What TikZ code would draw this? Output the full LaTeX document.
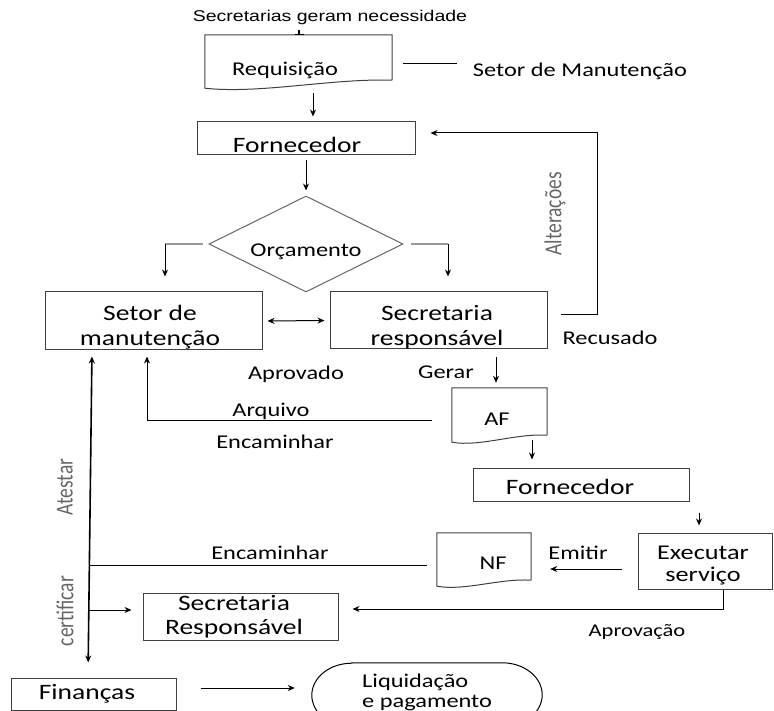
\documentclass[tikz,border=0pt]{standalone}
\usepackage{fontspec}
\setmainfont{Carlito}[FakeStretch=1.25]
\newfontfamily\plainf{Carlito}
\newfontfamily\arialf{Liberation Sans}[FakeStretch=1.25]
\usetikzlibrary{arrows.meta,shapes.geometric,calc}
\newcommand\fsA{\fontsize{19.5}{23}\selectfont}
\newcommand\fsB{\fontsize{22}{25}\selectfont}
\newcommand\fsC{\fontsize{21}{22}\selectfont}
\newcommand\fsD{\fontsize{22}{24}\selectfont}
\newcommand\fsE{\fontsize{19.5}{20}\selectfont}
\tikzset{
  lbl/.style={inner sep=0pt, font=\fsA},
  boxlbl/.style={inner sep=0pt, font=\fsB, align=center},
  box/.style={draw=black!75, line width=1pt, inner sep=0pt},
  shp/.style={inner sep=0pt},
  doc/.style={draw=black!75, line width=1pt},
  arr/.style={-{Stealth[length=7pt,width=6pt]}, line width=1pt},
  arrtwo/.style={{Stealth[length=7pt,width=6pt]}-{Stealth[length=7pt,width=6pt]}, line width=1pt},
  branch/.style={draw=black!40, line width=1.8pt},
  rotl/.style={inner sep=0pt, rotate=90, text=black!60, font=\plainf\fontsize{19.5}{20}\selectfont}
}
\begin{document}
\begin{tikzpicture}[x=1pt,y=-1pt]
\useasboundingbox (0,0) rectangle (774,711);

% ---------- top ----------
\node[inner sep=0pt, font=\arialf\fontsize{15.6}{18}\selectfont] (src) at (330,17) {Secretarias geram necessidade};

\node[shp, minimum width=187pt, minimum height=45pt] (req) at (298.5,57.5) {};
\draw[doc] (req.south east) -- (req.north east) -- (req.north west) -- ([yshift=-8pt]req.south west)
  .. controls +(55,6) and +(-60,-2) .. (req.south east);
\node[lbl] (reqt) at (285,70) {Requisição};
\draw[line width=1.8pt] ([xshift=-31pt,yshift=-6pt]src.south) -- ([xshift=0.5pt]req.north);
\draw[line width=1pt] ([xshift=-4pt]req.north) -- ([xshift=5pt]req.north);

\coordinate (sl1) at (403,63);
\coordinate (sl2) at (457,63);
\draw[line width=0.8pt] (sl1) -- (sl2);
\node[lbl] (setmt) at (580,71) {Setor de Manutenção};

% ---------- fornecedor 1 ----------
\node[box, minimum width=218pt, minimum height=33pt] (forn1) at (306,138.5) {};
\node[boxlbl] at (297,145) {Fornecedor};
\draw[arr, shorten <=13pt, shorten >=5pt] ([xshift=14.5pt]req.south) -- ([xshift=7pt]forn1.north);

% ---------- diamond ----------
\node[diamond, draw=black!60, line width=1pt, minimum width=194pt, minimum height=96pt, inner sep=0pt] (dia) at (306,244) {};
\node[lbl] at (306,252) {Orçamento};
\draw[arr, shorten <=5pt, shorten >=5pt] (forn1.south) -- (dia.north);

% ---------- setor / secretaria ----------
\node[box, minimum width=217pt, minimum height=58pt] (setm) at (153.5,321) {};
\node[boxlbl] at (150,327) {Setor de\\manutenção};
\node[box, minimum width=217pt, minimum height=57pt] (secr) at (438.5,320.5) {};
\node[boxlbl] at (437,327) {Secretaria\\responsável};

\coordinate (bl) at (165,244);
\coordinate (br) at (448,244);
\draw[branch] ([xshift=-6pt]dia.west) -- (bl);
\draw[arr, shorten >=15pt] (bl) -- (bl |- setm.north);
\draw[branch] ([xshift=7pt]dia.east) -- (br);
\draw[arr, shorten >=15pt] (br) -- (br |- secr.north);

\draw[arrtwo, shorten <=5pt, shorten >=5pt] (setm.east) -- (secr.west);

% Alteracoes loop
\draw[arr, shorten >=15pt] ([xshift=13pt,yshift=5.5pt]secr.east) -| (597,133) -- ([yshift=5.5pt]forn1.east);
\node[rotl] at (555,214) {\scalebox{1}[1.25]{Alterações}};
\node[lbl] at (610,338) {Recusado};
\node[lbl] at (296,374) {Aprovado};
\node[lbl] at (446,372) {Gerar};

% ---------- AF ----------
\node[shp, minimum width=95pt, minimum height=47pt] (af) at (499.5,411.5) {};
\draw[doc] (af.south east) -- (af.north east) -- (af.north west) -- ([yshift=-7pt]af.south west)
  .. controls +(28,5) and +(-32,-2) .. (af.south east);
\node[lbl] at (497,419) {AF};
\draw[arr, shorten <=8pt, shorten >=5pt] ([xshift=57.5pt]secr.south) -- ([xshift=-3.5pt]af.north);

\draw[arr, shorten >=6pt] ([xshift=-20pt,yshift=-8.5pt]af.west) -| ([xshift=-6.5pt]setm.south);
\node[lbl] at (271,411) {Arquivo};
\node[lbl] at (275,442) {Encaminhar};

% ---------- fornecedor 2 ----------
\node[box, minimum width=216pt, minimum height=33pt] (forn2) at (581,484.5) {};
\node[boxlbl] at (570,487) {Fornecedor};
\draw[arr, shorten <=5pt, shorten >=8pt] ([xshift=32.5pt]af.south) -- ([xshift=-49pt]forn2.north);

% ---------- executar ----------
\node[box, minimum width=134pt, minimum height=56pt] (exec) at (705,561) {};
\node[inner sep=0pt, font=\fsC, align=center] at (703,566) {Executar\\serviço};
\draw[arr, shorten <=11pt, shorten >=7pt] ([xshift=118pt]forn2.south) -- ([xshift=-6pt]exec.north);

% ---------- NF ----------
\node[shp, minimum width=94pt, minimum height=47pt] (nf) at (484,556.5) {};
\draw[doc] (nf.south east) -- (nf.north east) -- (nf.north west) -- ([yshift=-6pt]nf.south west)
  .. controls +(28,5) and +(-32,-2) .. (nf.south east);
\node[lbl] at (493,563) {NF};
\draw[arr, shorten <=16pt, shorten >=19pt] ([yshift=-8pt]exec.west) -- ([yshift=-8pt]exec.west -| nf.east);
\node[lbl] at (578,553) {Emitir};

% ---------- left vertical ----------
\node[box, minimum width=165pt, minimum height=32pt] (fin) at (93.5,694) {};
\node[boxlbl] at (87,694) {Finanças};
\draw[arrtwo, line width=1.6pt, shorten <=6pt, shorten >=15pt] ([xshift=-61.5pt]setm.south) -- ([xshift=-5.5pt]fin.north);
\node[rotl] at (65,487) {\scalebox{1}[1.25]{Atestar}};
\node[rotl] at (65,611) {\scalebox{1}[1.25]{certificar}};

\coordinate (j1) at (89.6,565);
\draw[line width=1pt] ([xshift=-10pt,yshift=-8.5pt]nf.west) -- (j1);
\node[lbl] at (270,553) {Encaminhar};

\node[box, minimum width=195pt, minimum height=47pt] (sec2) at (240.5,616.5) {};
\node[inner sep=0pt, font=\fsD, align=center] at (234,617) {Secretaria\\Responsável};
\coordinate (j2) at (89.2,610);
\draw[arr, shorten >=11pt] (j2) -- (j2 -| sec2.west);

\draw[arr, shorten >=14pt] ([xshift=18pt]exec.south) |- ([yshift=7.5pt]sec2.east);
\node[inner sep=0pt, font=\fontsize{18}{20}\selectfont] at (637,632) {Aprovação};

% ---------- liquidacao ----------
\node[shp, minimum width=230pt, minimum height=64pt] (liq) at (427,695) {};
\draw[line width=1pt] ([xshift=40pt]liq.north west) -- ([xshift=-40pt]liq.north east)
  arc[start angle=-90, end angle=90, x radius=40, y radius=32]
  -- ([xshift=40pt]liq.south west)
  arc[start angle=90, end angle=270, x radius=40, y radius=32] -- cycle;
\node[inner sep=0pt, font=\fsE, align=left, anchor=west] at (362,692) {Liquidação\\e pagamento};
\draw[arr, shorten <=24pt, shorten >=17pt] ([yshift=6pt]fin.east) -- ([yshift=6pt]fin.east -| liq.west);
\end{tikzpicture}
\end{document}
